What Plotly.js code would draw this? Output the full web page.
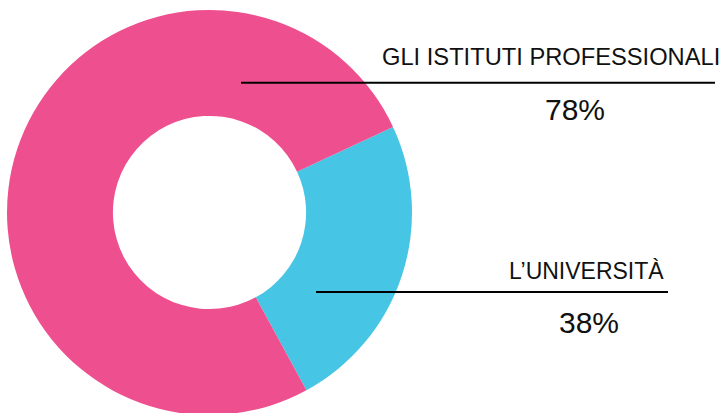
<!DOCTYPE html>
<html>
<head>
<meta charset="utf-8">
<script src="https://cdn.plot.ly/plotly-3.0.1.min.js"></script>
<style>
html,body{margin:0;padding:0;background:#fff;overflow:hidden;}
#chart{width:726px;height:425px;}
</style>
</head>
<body>
<div id="chart"></div>
<script>
// Categories and slice shares (as drawn: cyan slice spans ~86 degrees)
const categories = ["L’UNIVERSITÀ", "GLI ISTITUTI PROFESSIONALI"];
const sliceShares = [24, 76];
const percentLabels = ["38%", "78%"];
const colors = ["#46C6E4", "#EE4F8F"];

const W = 726, H = 425;
const px = (x) => x / W;
const py = (y) => (H - y) / H;

const data = [{
  type: "pie",
  labels: categories,
  values: sliceShares,
  sort: false,
  direction: "clockwise",
  rotation: 65,
  hole: 0.477,
  marker: {colors: colors, line: {width: 0}},
  textinfo: "none",
  hoverinfo: "label+percent",
  domain: {x: [px(7), px(412)], y: [py(415), py(10)]}
}];

const font = "Liberation Sans, Arial, Helvetica, sans-serif";
const layout = {
  width: W, height: H,
  margin: {l: 0, r: 0, t: 0, b: 0},
  paper_bgcolor: "#fff",
  showlegend: false,
  shapes: [
    {type: "line", xref: "paper", yref: "paper", x0: px(241), x1: px(715), y0: py(82.8), y1: py(82.8), line: {color: "#000", width: 2}},
    {type: "line", xref: "paper", yref: "paper", x0: px(316), x1: px(668), y0: py(292), y1: py(292), line: {color: "#000", width: 2}}
  ],
  annotations: [
    {xref: "paper", yref: "paper", x: px(722), y: py(56.5), xanchor: "right", yanchor: "middle", text: categories[1], showarrow: false, font: {family: font, size: 23.7, color: "#111"}},
    {xref: "paper", yref: "paper", x: px(574.5), y: py(109.5), xanchor: "center", yanchor: "middle", text: percentLabels[1], showarrow: false, font: {family: font, size: 30, color: "#111"}},
    {xref: "paper", yref: "paper", x: px(666), y: py(271), xanchor: "right", yanchor: "middle", text: categories[0], showarrow: false, font: {family: font, size: 23, color: "#111"}},
    {xref: "paper", yref: "paper", x: px(588.5), y: py(322.8), xanchor: "center", yanchor: "middle", text: percentLabels[0], showarrow: false, font: {family: font, size: 30, color: "#111"}}
  ]
};

Plotly.newPlot("chart", data, layout, {displayModeBar: false, staticPlot: true});
</script>
</body>
</html>
